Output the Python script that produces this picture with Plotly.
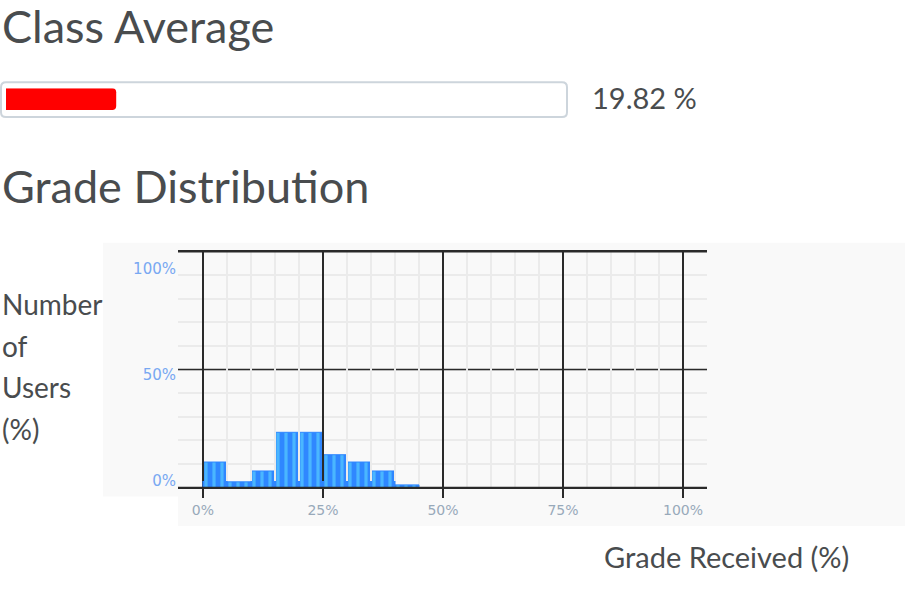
import plotly.graph_objects as go

# page size in pixels
W, H = 905, 597

# data
class_average = 19.82
bin_starts = [0, 5, 10, 15, 20, 25, 30, 35, 40]
bin_width = 5
users_pct = [10.8, 2.4, 7.0, 23.4, 23.4, 13.9, 10.8, 7.0, 1.1]
x_ticks = [0, 25, 50, 75, 100]
x_tick_labels = ["0%", "25%", "50%", "75%", "100%"]
y_ticks = [0, 50, 100]
y_tick_labels = ["0%", "50%", "100%"]
y_title_words = ["Number", "of", "Users", "(%)"]

TEXT = "#494c4e"
GRID_MAJOR = "#2a2a2a"
GRID_MINOR = "#ebebeb"
PANEL = "#f9f9f9"
BAR = "#2f87ff"
X_RANGE = [-5.2, 105]

# the page comes out slightly squashed vertically, undo it
Y_SCALE, Y_OFF = 0.979, 5


def px(x):
    return x / W


def py(y):
    return 1 - ((y - Y_OFF) / Y_SCALE) / H


def rounded_rect(x0, y0, x1, y1, r):
    """svg path of a rounded rectangle, pixel input -> paper coords"""
    rx, ry = r / W, r / H
    a, b, c, d = px(x0), py(y0), px(x1), py(y1)
    return (f"M{a + rx},{b} L{c - rx},{b} Q{c},{b} {c},{b - ry} "
            f"L{c},{d + ry} Q{c},{d} {c - rx},{d} "
            f"L{a + rx},{d} Q{a},{d} {a},{d + ry} "
            f"L{a},{b - ry} Q{a},{b} {a + rx},{b} Z")


fig = go.Figure()

# histogram of grades
fig.add_trace(go.Bar(
    x=[s + bin_width / 2 for s in bin_starts],
    y=users_pct,
    width=bin_width,
    marker=dict(
        color=BAR,
        line=dict(width=1, color=BAR),  # hides seams between bins
        pattern=dict(shape="|", fillmode="replace", bgcolor=BAR,
                     fgcolor="#4ab6ff", size=8, solidity=0.4),
    ),
    hoverinfo="skip",
    showlegend=False,
))

# major horizontal grid lines as traces so the minor vertical grid
# does not cut through them
for v in y_ticks:
    fig.add_trace(go.Scatter(
        x=X_RANGE, y=[v, v], mode="lines",
        line=dict(color=GRID_MAJOR, width=1.5),
        hoverinfo="skip", showlegend=False, cliponaxis=False,
    ))

# empty trace so the label axis is drawn
fig.add_trace(go.Scatter(x=[], y=[], yaxis="y2", showlegend=False,
                         hoverinfo="skip"))

# class average progress bar
fig.add_trace(go.Bar(
    x=[class_average], y=[0], orientation="h", width=1,
    marker=dict(color="#ff0000", cornerradius=4, line=dict(width=0)),
    xaxis="x3", yaxis="y3", hoverinfo="skip", showlegend=False,
))

shapes = [
    dict(type="rect", xref="paper", yref="paper", layer="below",
         x0=px(103), x1=px(178), y0=py(497), y1=py(241),
         fillcolor=PANEL, line=dict(width=0)),
    dict(type="rect", xref="paper", yref="paper", layer="below",
         x0=px(178), x1=1, y0=py(527), y1=py(241),
         fillcolor=PANEL, line=dict(width=0)),
    dict(type="path", xref="paper", yref="paper", layer="below",
         path=rounded_rect(1, 79, 567, 114, 5),
         fillcolor="white", line=dict(color="#cdd5dc", width=2)),
]

fig.update_layout(
    width=W, height=H, autosize=False,
    margin=dict(l=0, r=0, t=0, b=0),
    paper_bgcolor="white",
    plot_bgcolor="rgba(0,0,0,0)",
    font=dict(family="Lato", color=TEXT),
    xaxis=dict(
        domain=[px(178), px(707)], range=X_RANGE, anchor="y",
        tickvals=x_ticks, ticktext=x_tick_labels,
        tickfont=dict(family="DejaVu Sans", size=14, color="#98a9ba"),
        showgrid=True, gridcolor=GRID_MAJOR, gridwidth=1.5,
        ticks="outside", ticklen=9, tickwidth=1.5, tickcolor=GRID_MAJOR,
        showline=True, mirror=True, linecolor=GRID_MAJOR, linewidth=1.5,
        zeroline=False, fixedrange=True,
        minor=dict(dtick=5, tick0=0, showgrid=True, gridcolor=GRID_MINOR,
                   gridwidth=1.5, ticks=""),
    ),
    yaxis=dict(
        domain=[py(488), py(250)], range=[0, 100], anchor="x",
        tickvals=y_ticks, showticklabels=False, ticks="",
        showgrid=False, zeroline=False, fixedrange=True,
        minor=dict(dtick=10, tick0=0, showgrid=True, gridcolor=GRID_MINOR,
                   gridwidth=1.5, ticks=""),
    ),
    # the percent labels sit in their own column, a bit off the grid lines
    yaxis2=dict(
        domain=[py(481), py(267.5)], range=[0, 100], anchor="free",
        position=px(176), side="left",
        tickvals=y_ticks, ticktext=y_tick_labels, ticks="",
        tickfont=dict(family="DejaVu Sans", size=15, color="#78a8f2"),
        showgrid=False, zeroline=False, showline=False, fixedrange=True,
    ),
    xaxis3=dict(domain=[px(6), px(562)], range=[0, 100], anchor="y3",
                visible=False, fixedrange=True),
    yaxis3=dict(domain=[py(107), py(85)], range=[-0.5, 0.5], anchor="x3",
                visible=False, fixedrange=True),
    shapes=shapes,
)

# zero-width non-joiner keeps Lato from drawing the "ti" ligature
annotations = [
    dict(text="Class Average", x=0, y=py(22), size=45),
    dict(text=f"{class_average:.2f} %", x=px(590), y=py(94), size=29),
    dict(text="Grade Distribu\u200ction", x=0, y=py(184), size=45),
    dict(text="Grade Received (%)", x=px(602), y=py(558), size=29),
]
for i, word in enumerate(y_title_words):
    annotations.append(dict(text=word, x=0, y=py(303 + 42 * i), size=28))

for a in annotations:
    fig.add_annotation(
        text=a["text"], x=a["x"], y=a["y"], xref="paper", yref="paper",
        xanchor="left", yanchor="middle", showarrow=False,
        font=dict(family="Lato", size=a["size"], color=TEXT),
    )

fig.write_html("out.html", config={"displayModeBar": False},
               post_script="document.body.style.margin = '0';")
